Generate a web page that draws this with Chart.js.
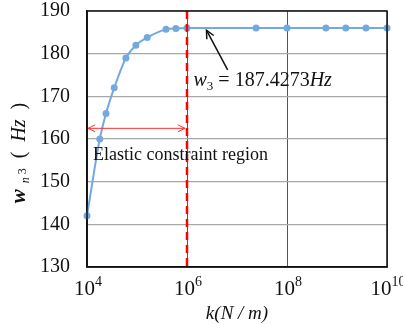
<!DOCTYPE html>
<html>
<head>
<meta charset="utf-8">
<script src="https://cdn.jsdelivr.net/npm/chart.js@4"></script>
<style>
  html, body { margin: 0; padding: 0; background: #fff; }
  #wrap { width: 403px; height: 325px; }
</style>
</head>
<body>
<div id="wrap"><canvas id="chart"></canvas></div>
<script>
// stiffness k (N/m) and 3rd natural frequency (Hz)
const kValues = [1e4, 1.8e4, 2.4e4, 3.5e4, 6e4, 9.5e4, 1.6e5, 3.8e5, 6e5, 1e6, 2.4e7, 1e8, 6e8, 1.5e9, 3.8e9, 1e10];
const freqValues = [142, 160, 166, 172, 179, 182, 183.8, 185.7, 185.9, 186, 186, 186, 186, 186, 186, 186];
const xTicks = [1e4, 1e6, 1e8, 1e10];
const yTicks = [130, 140, 150, 160, 170, 180, 190];
const regionEnd = 1e6;
const regionArrowY = 162.5;

const serif = "'Liberation Serif', 'Times New Roman', serif";

function drawArrowHead(ctx, x1, y1, x2, y2, size) {
    const a = Math.atan2(y2 - y1, x2 - x1);
    ctx.beginPath();
    ctx.moveTo(x2 - size * Math.cos(a - 0.45), y2 - size * Math.sin(a - 0.45));
    ctx.lineTo(x2, y2);
    ctx.lineTo(x2 - size * Math.cos(a + 0.45), y2 - size * Math.sin(a + 0.45));
    ctx.stroke();
}

// draws a row of text pieces: [text, font, dy]
function drawPieces(ctx, pieces, x, y) {
    let cx = x;
    pieces.forEach(p => {
        ctx.font = p[1];
        ctx.fillText(p[0], cx, y + (p[2] || 0));
        cx += ctx.measureText(p[0]).width;
    });
    return cx - x;
}
function piecesWidth(ctx, pieces) {
    let w = 0;
    pieces.forEach(p => { ctx.font = p[1]; w += ctx.measureText(p[0]).width; });
    return w;
}

const annotations = {
    id: 'annotations',
    afterDatasetsDraw(chart) {
        const ctx = chart.ctx;
        const x = chart.scales.x, y = chart.scales.y;
        const area = chart.chartArea;
        ctx.save();

        // red dashed boundary
        const bx = x.getPixelForValue(regionEnd);
        ctx.strokeStyle = '#ff0000';
        ctx.lineWidth = 2.5;
        ctx.setLineDash([8, 5]);
        ctx.beginPath();
        ctx.moveTo(bx, area.top);
        ctx.lineTo(bx, area.bottom);
        ctx.stroke();
        ctx.setLineDash([]);

        // red double arrow
        const ay = y.getPixelForValue(regionArrowY);
        const ax0 = x.getPixelForValue(kValues[0]) + 1;
        const ax1 = bx - 2;
        ctx.lineWidth = 1;
        ctx.strokeStyle = '#ff3030';
        ctx.beginPath();
        ctx.moveTo(ax0, ay);
        ctx.lineTo(ax1, ay);
        ctx.stroke();
        drawArrowHead(ctx, ax1, ay, ax0, ay, 8);
        drawArrowHead(ctx, ax0, ay, ax1, ay, 8);

        ctx.fillStyle = '#111';
        ctx.textBaseline = 'alphabetic';
        ctx.textAlign = 'left';
        ctx.font = '18px ' + serif;
        ctx.fillText('Elastic constraint region', ax0 + 5, y.getPixelForValue(155));

        // black arrow to the plateau
        const hx = x.getPixelForValue(2.45e6), hy = y.getPixelForValue(185.5);
        const tx = x.getPixelForValue(6.5e6), ty = y.getPixelForValue(176.2);
        ctx.strokeStyle = '#111';
        ctx.lineWidth = 1.5;
        ctx.beginPath();
        ctx.moveTo(tx, ty);
        ctx.lineTo(hx, hy);
        ctx.stroke();
        drawArrowHead(ctx, tx, ty, hx, hy, 9);

        const label = [
            ['w', 'italic 20px ' + serif],
            ['3', '13px ' + serif, 4],
            [' = 187.4273', '20px ' + serif],
            ['Hz', 'italic 20px ' + serif]
        ];
        drawPieces(ctx, label, x.getPixelForValue(1.35e6), y.getPixelForValue(172.4));

        // x tick labels as 10 with a raised exponent
        x.ticks.forEach(t => {
            const px = x.getPixelForValue(t.value);
            const exp = [['10', '21px ' + serif], [String(Math.round(Math.log10(t.value))), '14px ' + serif, -9]];
            const w = piecesWidth(ctx, exp);
            drawPieces(ctx, exp, px - w / 2 + 1, area.bottom + 28);
        });

        // y axis title
        const title = [
            ['w', 'bold italic 21px ' + serif],
            ['  n', 'italic 12px ' + serif, 4],
            [' 3', '12px ' + serif, 1],
            ['  (  ', '20px ' + serif],
            ['Hz', 'italic 20px ' + serif],
            ['  )', '20px ' + serif]
        ];
        const tw = piecesWidth(ctx, title);
        ctx.translate(25, (area.top + area.bottom) / 2 + 14);
        ctx.rotate(-Math.PI / 2);
        drawPieces(ctx, title, -tw / 2, 0);
        ctx.restore();
    }
};

new Chart(document.getElementById('chart'), {
    type: 'line',
    data: {
        datasets: [{
            data: kValues.map((k, i) => ({ x: k, y: freqValues[i] })),
            borderColor: '#74a9dd',
            backgroundColor: '#74a9dd',
            borderWidth: 2,
            pointRadius: 2.5,
            pointHoverRadius: 2.5,
            cubicInterpolationMode: 'monotone',
            clip: false
        }]
    },
    options: {
        responsive: true,
        maintainAspectRatio: false,
        animation: false,
        events: [],
        layout: { padding: { left: 0, right: 16, top: 11, bottom: 0 } },
        plugins: {
            legend: { display: false },
            tooltip: { enabled: false }
        },
        scales: {
            x: {
                type: 'logarithmic',
                min: 1e4,
                max: 1e10,
                afterBuildTicks: function(scale) {
                    scale.ticks = xTicks.map(v => ({ value: v }));
                },
                afterFit: function(scale) {
                    scale.height = 58;
                    scale.paddingLeft = 0;
                    scale.paddingRight = 0;
                },
                grid: { color: '#555', lineWidth: 1, drawTicks: false },
                border: { color: '#111', width: 1.5 },
                ticks: { display: false },
                title: {
                    display: true,
                    text: 'k(N / m)',
                    color: '#111',
                    font: { family: serif, size: 19, style: 'italic' },
                    padding: { top: -4, bottom: 0 }
                }
            },
            y: {
                min: 130,
                max: 190,
                afterBuildTicks: function(scale) {
                    scale.ticks = yTicks.map(v => ({ value: v }));
                },
                afterFit: function(scale) {
                    scale.width = 87;
                    scale.paddingTop = 0;
                    scale.paddingBottom = 0;
                },
                grid: { color: '#a8a8a8', lineWidth: 1.2, drawTicks: false },
                border: { color: '#111', width: 1.5 },
                ticks: {
                    padding: 17,
                    color: '#111',
                    font: { family: serif, size: 20 }
                }
            }
        }
    },
    plugins: [annotations, {
        id: 'frame',
        afterDraw(chart) {
            const a = chart.chartArea, ctx = chart.ctx;
            ctx.save();
            ctx.strokeStyle = '#111';
            ctx.lineWidth = 1.5;
            ctx.strokeRect(a.left, a.top, a.right - a.left, a.bottom - a.top);
            ctx.restore();
        }
    }]
});
</script>
</body>
</html>
